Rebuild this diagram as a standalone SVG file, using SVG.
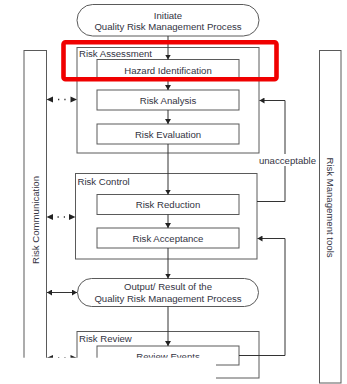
<svg xmlns="http://www.w3.org/2000/svg" width="347" height="384" viewBox="0 0 347 384">
  <style>
    .box { fill: #ffffff; stroke: #5a5a5a; stroke-width: 1; }
    .frame { fill: none; stroke: #5a5a5a; stroke-width: 1; }
    .line { fill: none; stroke: #333333; stroke-width: 1; }
    .dots { fill: none; stroke: #333333; stroke-width: 1.3; stroke-dasharray: 1.3 5; }
    .head { fill: #222222; }
    text { font-family: "Liberation Sans", Arial, sans-serif; font-size: 9.6px; fill: #33333f; }
    .c { text-anchor: middle; }
  </style>
  <defs>
    <marker id="arr" markerWidth="6" markerHeight="6" refX="5" refY="3" orient="auto" markerUnits="userSpaceOnUse">
      <path d="M0,0 L5,3 L0,6 Z" fill="#222222"/>
    </marker>
    <marker id="arrStart" markerWidth="6" markerHeight="6" refX="0" refY="3" orient="auto" markerUnits="userSpaceOnUse">
      <path d="M5,0 L0,3 L5,6 Z" fill="#222222"/>
    </marker>
  </defs>

  <rect width="347" height="384" fill="#ffffff"/>

  <!-- side bars -->
  <g id="risk-communication">
    <rect class="box" x="24" y="50.5" width="22.5" height="340"/>
    <text class="c" transform="translate(38.5,220) rotate(-90)">Risk Communication</text>
  </g>
  <g id="risk-management-tools">
    <rect class="box" x="319.5" y="50.5" width="21.5" height="332.5"/>
    <text class="c" transform="translate(327,207.5) rotate(90)">Risk Management tools</text>
  </g>

  <!-- phase frames -->
  <g id="risk-assessment">
    <rect class="frame" x="77" y="47.5" width="182" height="105.5"/>
    <text x="79" y="57">Risk Assessment</text>
  </g>
  <g id="risk-control">
    <rect class="frame" x="75.5" y="173.5" width="181.5" height="85.5"/>
    <text x="77.5" y="184.5">Risk Control</text>
  </g>
  <g id="risk-review">
    <rect class="frame" x="77" y="331.5" width="182" height="46.5"/>
    <text x="79" y="342">Risk Review</text>
  </g>

  <!-- process steps -->
  <g id="initiate">
    <rect class="box" x="77" y="4.5" width="182" height="31.5" rx="15.7"/>
    <text class="c" x="168" y="18.5">Initiate</text>
    <text class="c" x="168" y="29.5">Quality Risk Management Process</text>
  </g>
  <g id="hazard-identification">
    <rect class="box" x="97" y="59.5" width="142" height="21"/>
    <text class="c" x="168" y="74">Hazard Identification</text>
  </g>
  <g id="risk-analysis">
    <rect class="box" x="97" y="90" width="142" height="20"/>
    <text class="c" x="168" y="103.5">Risk Analysis</text>
  </g>
  <g id="risk-evaluation">
    <rect class="box" x="97" y="124" width="142" height="20"/>
    <text class="c" x="168" y="137.8">Risk Evaluation</text>
  </g>
  <g id="risk-reduction">
    <rect class="box" x="97" y="194.5" width="142" height="20"/>
    <text class="c" x="168" y="208">Risk Reduction</text>
  </g>
  <g id="risk-acceptance">
    <rect class="box" x="97" y="228" width="142" height="20"/>
    <text class="c" x="168" y="241.5">Risk Acceptance</text>
  </g>
  <g id="output">
    <rect class="box" x="77.5" y="278.5" width="181" height="28" rx="14"/>
    <text class="c" x="168" y="289.5">Output/ Result of the</text>
    <text class="c" x="168" y="301.8">Quality Risk Management Process</text>
  </g>
  <g id="review-events">
    <rect class="box" x="97" y="346" width="142" height="19"/>
    <text class="c" x="168" y="359.5">Review Events</text>
  </g>

  <!-- connectors -->
  <g id="connectors">
    <line class="line" x1="168" y1="36" x2="168" y2="59.5" marker-end="url(#arr)"/>
    <line class="line" x1="168" y1="80.5" x2="168" y2="90" marker-end="url(#arr)"/>
    <line class="line" x1="168" y1="110" x2="168" y2="124" marker-end="url(#arr)"/>
    <line class="line" x1="168" y1="144" x2="168" y2="194.5" marker-end="url(#arr)"/>
    <line class="line" x1="168" y1="214.5" x2="168" y2="228" marker-end="url(#arr)"/>
    <line class="line" x1="168" y1="248" x2="168" y2="278.5" marker-end="url(#arr)"/>
    <line class="line" x1="168" y1="306.5" x2="168" y2="346" marker-end="url(#arr)"/>

    <!-- unacceptable feedback loop -->
    <polyline class="line" points="257,201.5 285,201.5 285,100.5 259.5,100.5" marker-end="url(#arr)"/>
    <rect x="258" y="154" width="58" height="12" fill="#ffffff"/>
    <text class="c" x="287.5" y="163.5">unacceptable</text>

    <!-- review feedback loop -->
    <polyline class="line" points="239,355.5 285,355.5 285,238.5 257.5,238.5" marker-end="url(#arr)"/>

    <!-- communication links -->
    <g>
      <polygon class="head" points="46.5,99.5 53,96.5 53,102.5"/>
      <polygon class="head" points="77,99.5 70.5,96.5 70.5,102.5"/>
      <line class="dots" x1="58" y1="99.5" x2="66" y2="99.5"/>
    </g>
    <g>
      <polygon class="head" points="46.5,217 53,214 53,220"/>
      <polygon class="head" points="75.5,217 69,214 69,220"/>
      <line class="dots" x1="57.5" y1="217" x2="65" y2="217"/>
    </g>
    <line class="line" x1="47" y1="292.5" x2="77" y2="292.5" marker-start="url(#arrStart)" marker-end="url(#arr)"/>
    <g>
      <polygon class="head" points="46.5,358 53,355 53,361"/>
      <polygon class="head" points="77,358 70.5,355 70.5,361"/>
      <line class="dots" x1="58" y1="358" x2="66" y2="358"/>
    </g>
  </g>

  <!-- blank strip over the lower left corner -->
  <rect x="0" y="357.7" width="216" height="26.3" fill="#ffffff"/>

  <!-- highlight frame -->
  <rect x="63.5" y="42.3" width="213" height="37" rx="2" fill="none" stroke="#f00000" stroke-width="4.6"/>
</svg>
